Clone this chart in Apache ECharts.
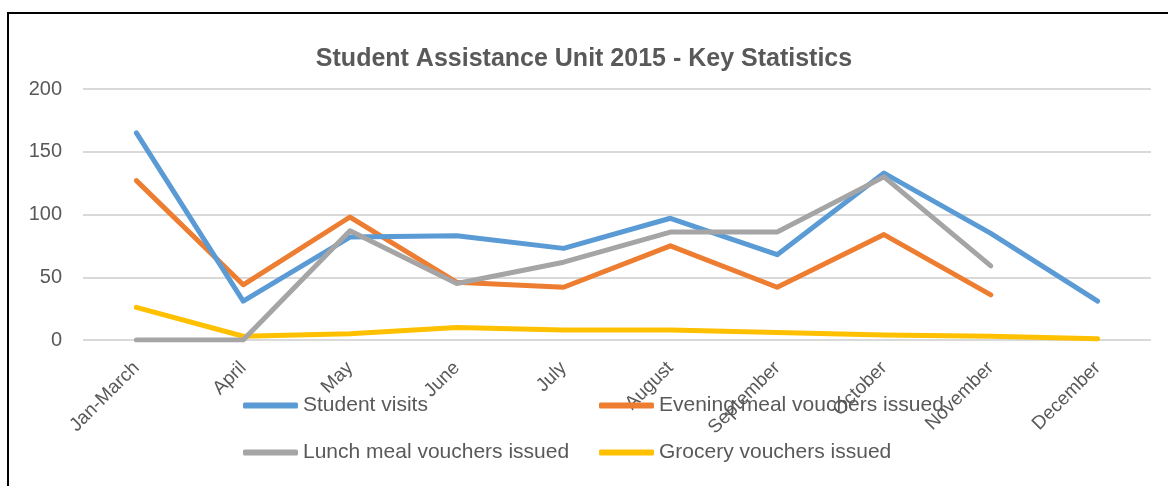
<!DOCTYPE html>
<html>
<head>
<meta charset="utf-8">
<script src="https://cdn.jsdelivr.net/npm/echarts@6/dist/echarts.min.js"></script>
<style>
  body { margin: 0; background: #fff; }
  #chart { position: absolute; left: 0; top: 0; width: 1168px; height: 486px; }
  .frame { position: absolute; left: 7px; top: 12px; width: 1161px; height: 474px;
    border-left: 2px solid #000; border-top: 2px solid #000; pointer-events: none; }
</style>
</head>
<body>
<div id="chart"></div>
<div class="frame"></div>
<script>
// 月份
const months = ['Jan-March', 'April', 'May', 'June', 'July', 'August', 'September', 'October', 'November', 'December']
// 各项数据
const studentVisits = [165, 31, 82, 83, 73, 97, 68, 133, 85, 31]
const eveningVouchers = [127, 44, 98, 46, 42, 75, 42, 84, 36, null]
const lunchVouchers = [0, 0, 87, 45, 62, 86, 86, 130, 59, null]
const groceryVouchers = [26, 3, 5, 10, 8, 8, 6, 4, 3, 1]
const yTicks = [0, 50, 100, 150, 200]

const names = ['Student visits', 'Evening meal vouchers issued', 'Lunch meal vouchers issued', 'Grocery vouchers issued']
const colors = ['#5B9BD5', '#ED7D31', '#A5A5A5', '#FFC000']
const values = [studentVisits, eveningVouchers, lunchVouchers, groceryVouchers]

const font = 'Liberation Sans'
const textColor = '#595959'

// 图例位置 (两行两列)
const legendPos = [
  {left: 238, top: 390},
  {left: 594, top: 390},
  {left: 238, top: 437},
  {left: 594, top: 437}
]

const option = {
  animation: false,
  title: {
    text: 'Student Assistance Unit 2015 - Key Statistics',
    left: 'center',
    top: 42,
    textStyle: {
      fontFamily: font,
      fontSize: 25,
      fontWeight: 'bold',
      color: textColor
    }
  },
  legend: names.map((n, i) => ({
    data: [n],
    left: legendPos[i].left,
    top: legendPos[i].top,
    icon: 'roundRect',
    itemWidth: 55,
    itemHeight: 6,
    itemGap: 0,
    textStyle: {fontFamily: font, fontSize: 21, color: textColor}
  })),
  grid: {
    left: 83,
    right: 17,
    top: 89,
    height: 251,
    containLabel: false
  },
  xAxis: {
    type: 'category',
    data: months,
    boundaryGap: true,
    axisLine: {show: false},
    axisTick: {show: false},
    axisLabel: {
      interval: 0,
      rotate: 45,
      margin: 25,
      fontFamily: font,
      fontSize: 19,
      color: textColor
    }
  },
  yAxis: {
    type: 'value',
    min: yTicks[0],
    max: yTicks[yTicks.length - 1],
    interval: 50,
    axisLine: {show: false},
    axisTick: {show: false},
    axisLabel: {
      margin: 21,
      fontFamily: font,
      fontSize: 20,
      color: textColor
    },
    splitLine: {lineStyle: {color: '#D9D9D9', width: 2}}
  },
  series: names.map((n, i) => ({
    name: n,
    type: 'line',
    data: values[i],
    symbol: 'none',
    z: 10 - i,
    itemStyle: {color: colors[i]},
    lineStyle: {color: colors[i], width: 5, cap: 'round', join: 'round'}
  }))
}
// 灰色线在橙色线之上
option.series[2].z = 12

const myChart = echarts.init(document.getElementById('chart'))
myChart.setOption(option)
</script>
</body>
</html>
